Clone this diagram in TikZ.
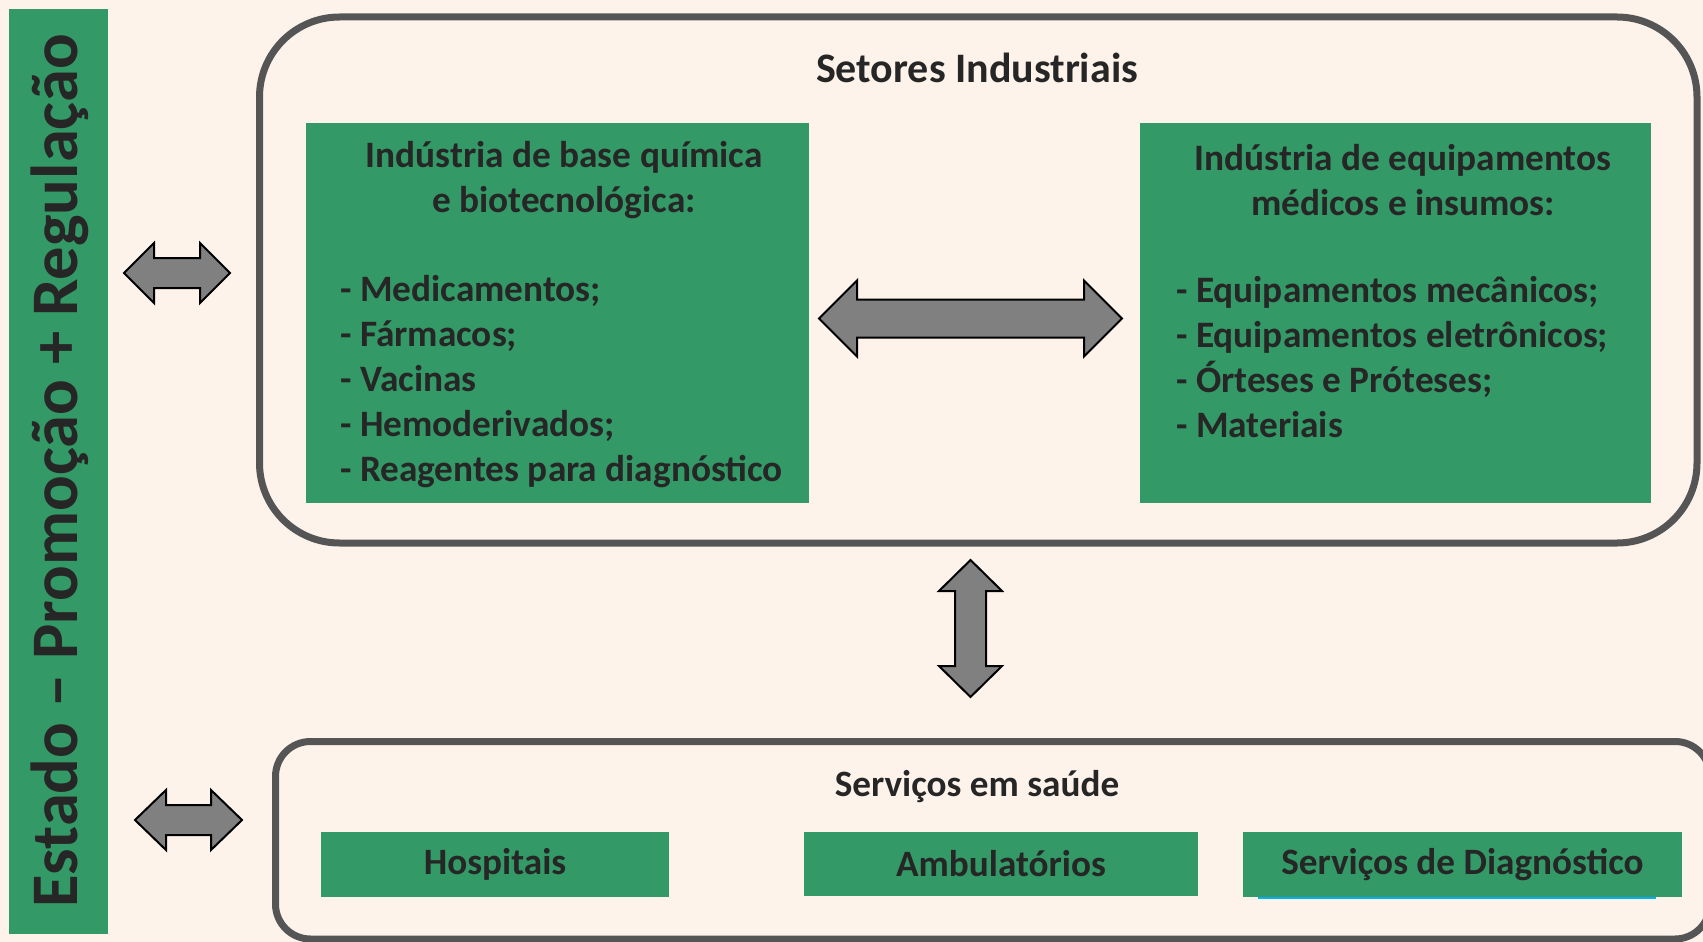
\documentclass[tikz,border=0pt]{standalone}
\usepackage{fontspec}
\setmainfont{Carlito}
\definecolor{bgc}{RGB}{254,243,235}
\definecolor{grn}{RGB}{51,153,102}
\definecolor{txt}{RGB}{38,38,38}
\definecolor{frame}{RGB}{85,85,85}
\definecolor{arr}{RGB}{128,128,128}
\definecolor{blu}{RGB}{0,176,240}
\tikzset{
  greenbox/.style={fill=grn, draw=none, inner sep=0pt},
  bigtext/.style={text=txt, font=\fontsize{37.3}{45}\selectfont\bfseries, inner sep=0pt},
  titletext/.style={text=txt, font=\fontsize{42}{48}\selectfont\bfseries, inner sep=0pt},
  smalltext/.style={text=txt, font=\fontsize{37.2}{42}\selectfont\bfseries, inner sep=0pt},
  outerframe/.style={draw=frame, line width=7pt},
  blockarrow/.style={fill=arr, draw=black, line width=2pt, line join=miter}
}
\newcommand{\harrow}[6]{% x1 x2 yc headhalf shafthalf headlen
  \draw[blockarrow] (#1,#3) -- ({#1+#6},{#3-#4}) -- ({#1+#6},{#3-#5}) -- ({#2-#6},{#3-#5}) -- ({#2-#6},{#3-#4}) -- (#2,#3) -- ({#2-#6},{#3+#4}) -- ({#2-#6},{#3+#5}) -- ({#1+#6},{#3+#5}) -- ({#1+#6},{#3+#4}) -- cycle;}
\newcommand{\varrow}[6]{% y1 y2 xc headhalf shafthalf headlen
  \draw[blockarrow] (#3,#1) -- ({#3+#4},{#1+#6}) -- ({#3+#5},{#1+#6}) -- ({#3+#5},{#2-#6}) -- ({#3+#4},{#2-#6}) -- (#3,#2) -- ({#3-#4},{#2-#6}) -- ({#3-#5},{#2-#6}) -- ({#3-#5},{#1+#6}) -- ({#3-#4},{#1+#6}) -- cycle;}
\begin{document}
\begin{tikzpicture}[x=1pt,y=-1pt]
\fill[bgc] (0,0) rectangle (1703,942);
\useasboundingbox (0,0) rectangle (1703,942);
\begin{scope}
\clip (0,0) rectangle (1703,942);
% left state bar
\node[greenbox, minimum width=99pt, minimum height=925pt] (estado) at (58.5,471.5) {};
\node[text=txt, font=\fontsize{66.5}{72}\selectfont\bfseries, rotate=90, inner sep=0pt] (estadotxt) at (60,471) {Estado -- Promoção + Regulação};
% top frame
\draw[outerframe, rounded corners=80pt] (259.5,17) rectangle (1697,543);
\node[titletext] (setores) at (977,68) {Setores Industriais};
% left green box
\node[greenbox, minimum width=503pt, minimum height=380pt] (quim) at (557.5,313) {};
\node[bigtext, align=center] (quimtitle) at (564,180) {Indústria de base química\\e biotecnológica:};
\node[bigtext, align=left, anchor=west] (quimlist) at (340,381.5) {- Medicamentos;\\- Fármacos;\\- Vacinas\\- Hemoderivados;\\- Reagentes para diagnóstico};
% right green box
\node[greenbox, minimum width=511pt, minimum height=380pt] (equip) at (1395.5,313) {};
\node[bigtext, align=center] (equiptitle) at (1403,180) {Indústria de equipamentos\\médicos e insumos:};
\node[bigtext, align=left, anchor=west] (equiplist) at (1176,357) {- Equipamentos mecânicos;\\- Equipamentos eletrônicos;\\- Órteses e Próteses;\\- Materiais};
% bottom frame
\draw[outerframe, rounded corners=35pt] (275.5,741.5) rectangle (1710,939);
\node[smalltext] (servicos) at (977,787) {Serviços em saúde};
\node[greenbox, minimum width=348pt, minimum height=65pt] (hosp) at (495,864.5) {};
\node[smalltext] at (hosp.center) {Hospitais};
\node[greenbox, minimum width=394pt, minimum height=64pt] (amb) at (1001,864) {};
\node[smalltext] at (amb.center) {Ambulatórios};
\draw[blu, line width=2.5pt] (1258,898) -- (1656,898);
\node[greenbox, minimum width=439pt, minimum height=65pt] (diag) at (1462.5,864.5) {};
\node[smalltext] at (diag.center) {Serviços de Diagnóstico};
% arrows
\harrow{819}{1122}{318.5}{38}{19}{38}
\harrow{124}{230}{273}{30}{15}{30}
\harrow{135}{242}{820}{30}{15}{31}
\varrow{560}{697}{970.5}{31.5}{15.5}{31}
\end{scope}
\end{tikzpicture}
\end{document}
